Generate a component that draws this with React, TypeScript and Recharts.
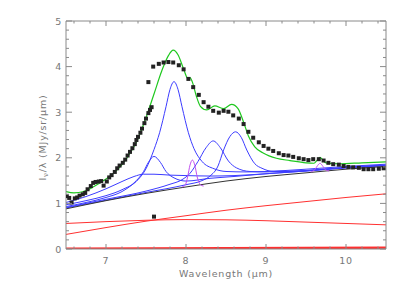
import { ComposedChart, Line, Scatter, XAxis, YAxis } from "recharts"

type Pt = [number, number]

// observed spectrum, short-wavelength order (x in micron, y in MJy/sr/micron)
const specShort: Pt[] = [
  [6.51, 1.16], [6.54, 1.12], [6.57, 1.02], [6.61, 1.11], [6.64, 1.13], [6.67, 1.17],
  [6.71, 1.2], [6.74, 1.23], [6.77, 1.31], [6.81, 1.38], [6.84, 1.45], [6.87, 1.47],
  [6.91, 1.48], [6.94, 1.49], [6.97, 1.39], [7.01, 1.48], [7.04, 1.57], [7.07, 1.62],
  [7.11, 1.69], [7.14, 1.77], [7.17, 1.83], [7.21, 1.89], [7.24, 1.96], [7.27, 2.05],
  [7.3, 2.13], [7.33, 2.21], [7.36, 2.3], [7.38, 2.39], [7.4, 2.46], [7.43, 2.55],
  [7.45, 2.64], [7.48, 2.76], [7.5, 2.86], [7.53, 2.98], [7.55, 3.05], [7.57, 3.11],
]

// observed spectrum, long-wavelength order
const specLong: Pt[] = [
  [7.53, 3.66], [7.6, 0.71], [7.59, 4.0], [7.66, 4.06], [7.72, 4.09], [7.78, 4.1],
  [7.84, 4.09], [7.91, 4.03], [7.97, 3.94], [8.03, 3.73], [8.09, 3.55], [8.16, 3.38],
  [8.22, 3.22], [8.28, 3.12], [8.34, 3.03], [8.41, 2.99], [8.47, 3.03], [8.53, 3.01],
  [8.59, 2.93], [8.66, 2.86], [8.72, 2.74], [8.78, 2.57], [8.84, 2.44], [8.91, 2.34],
  [8.97, 2.26], [9.03, 2.2], [9.09, 2.15], [9.16, 2.1], [9.22, 2.06], [9.28, 2.05],
  [9.34, 2.02], [9.41, 1.99], [9.47, 1.97], [9.53, 1.95], [9.59, 1.97], [9.66, 1.97],
  [9.72, 1.94], [9.78, 1.89], [9.84, 1.86], [9.91, 1.85], [9.97, 1.82], [10.03, 1.8],
  [10.09, 1.79], [10.16, 1.78], [10.22, 1.75], [10.28, 1.75], [10.34, 1.75], [10.41, 1.76],
  [10.47, 1.77],
]

// total model
const modelTotal: Pt[] = [
  [6.5, 1.26], [6.6, 1.23], [6.72, 1.26], [6.85, 1.37], [6.97, 1.5], [7.1, 1.67],
  [7.2, 1.85], [7.3, 2.1], [7.4, 2.42], [7.5, 2.88], [7.6, 3.4], [7.7, 3.92],
  [7.78, 4.24], [7.84, 4.36], [7.9, 4.26], [7.97, 3.95], [8.02, 3.75], [8.05, 3.76],
  [8.08, 3.66], [8.13, 3.35], [8.18, 3.13], [8.26, 3.05], [8.36, 3.14], [8.47, 3.08],
  [8.57, 3.17], [8.65, 3.08], [8.72, 2.78], [8.78, 2.48], [8.86, 2.24], [8.97, 2.1],
  [9.13, 1.99], [9.3, 1.94], [9.5, 1.89], [9.6, 1.88], [9.64, 1.95], [9.675, 2.01],
  [9.71, 1.95], [9.75, 1.89], [9.92, 1.87], [10.2, 1.89], [10.5, 1.91],
]

// total continuum
const continuum: Pt[] = [
  [6.5, 0.88], [7.0, 1.06], [7.5, 1.22], [8.0, 1.36], [8.5, 1.49],
  [9.0, 1.59], [9.5, 1.67], [10.0, 1.75], [10.5, 1.81],
]

// continuum components
const warmDust: Pt[] = [
  [6.5, 0.32], [7.0, 0.47], [7.5, 0.61], [8.0, 0.73], [8.5, 0.85],
  [9.0, 0.95], [9.5, 1.04], [10.0, 1.13], [10.5, 1.21],
]
const starlight: Pt[] = [
  [6.5, 0.56], [7.0, 0.6], [7.5, 0.63], [8.0, 0.645], [8.5, 0.64],
  [9.0, 0.62], [9.5, 0.59], [10.0, 0.56], [10.5, 0.53],
]
const hotDust: Pt[] = [[6.5, 0.015], [8.5, 0.028], [10.5, 0.04]]
const coldDust: Pt[] = [[6.5, 0.003], [10.5, 0.008]]

// PAH features (continuum + feature)
const pah742: Pt[] = [
  [6.5, 1.02], [6.75, 1.15], [7.0, 1.32], [7.2, 1.48], [7.35, 1.59], [7.47, 1.64],
  [7.6, 1.64], [7.8, 1.62], [8.0, 1.61], [8.3, 1.6], [8.6, 1.61], [9.0, 1.65],
  [9.5, 1.71], [10.0, 1.78], [10.5, 1.83],
]
const pah760: Pt[] = [
  [6.5, 0.93], [6.75, 1.02], [7.0, 1.13], [7.2, 1.26], [7.35, 1.45], [7.47, 1.7],
  [7.53, 1.9], [7.6, 2.03], [7.68, 1.9], [7.75, 1.7], [7.85, 1.56], [8.0, 1.49],
  [8.3, 1.55], [8.6, 1.59], [9.0, 1.65], [9.5, 1.71], [10.0, 1.78], [10.5, 1.83],
]
const pah785: Pt[] = [
  [6.5, 0.97], [6.75, 1.06], [7.0, 1.17], [7.2, 1.3], [7.4, 1.52], [7.5, 1.76],
  [7.6, 2.18], [7.67, 2.55], [7.75, 3.12], [7.8, 3.5], [7.85, 3.67], [7.9, 3.5],
  [7.95, 3.12], [8.03, 2.55], [8.1, 2.2], [8.2, 1.92], [8.35, 1.76], [8.5, 1.7],
  [8.75, 1.69], [9.0, 1.7], [9.5, 1.75], [10.0, 1.81], [10.5, 1.86],
]
const pah833: Pt[] = [
  [6.5, 0.91], [7.0, 1.09], [7.5, 1.27], [7.8, 1.42], [7.95, 1.52], [8.05, 1.66],
  [8.15, 1.92], [8.25, 2.22], [8.34, 2.37], [8.43, 2.22], [8.53, 1.93], [8.63, 1.78],
  [8.8, 1.7], [9.0, 1.69], [9.5, 1.72], [10.0, 1.79], [10.5, 1.84],
]
const pah861: Pt[] = [
  [6.5, 0.9], [7.0, 1.07], [7.5, 1.24], [8.0, 1.41], [8.2, 1.5], [8.3, 1.6],
  [8.4, 1.82], [8.47, 2.17], [8.55, 2.47], [8.62, 2.57], [8.69, 2.45], [8.76, 2.17],
  [8.86, 1.87], [8.95, 1.77], [9.1, 1.7], [9.5, 1.72], [10.0, 1.79], [10.5, 1.84],
]

// emission lines (continuum + line)
const h2s4: Pt[] = [
  [7.95, 1.36], [7.99, 1.4], [8.02, 1.58], [8.05, 1.84], [8.08, 1.95],
  [8.11, 1.84], [8.14, 1.58], [8.18, 1.41], [8.22, 1.38],
]
const h2s3: Pt[] = [
  [9.56, 1.69], [9.61, 1.74], [9.645, 1.83], [9.675, 1.88], [9.705, 1.83],
  [9.74, 1.74], [9.79, 1.71],
]

const xTicks = [6.6, 6.8, 7, 7.2, 7.4, 7.6, 7.8, 8, 8.2, 8.4, 8.6, 8.8, 9, 9.2, 9.4, 9.6, 9.8, 10, 10.2, 10.4]
const yTicks = [
  0, 0.2, 0.4, 0.6, 0.8, 1, 1.2, 1.4, 1.6, 1.8, 2, 2.2, 2.4, 2.6, 2.8,
  3, 3.2, 3.4, 3.6, 3.8, 4, 4.2, 4.4, 4.6, 4.8, 5,
]

const axisColor = "#8a8a8a"
const textColor = "#777"
const font = { fontFamily: "DejaVu Sans", fontSize: 9.5, letterSpacing: 0.8, fill: textColor }

const pts = (a: Pt[]) => a.map(([x, y]) => ({ x, y }))
const isMajor = (v: number) => Math.abs(v - Math.round(v)) < 1e-6

function BottomTick({ x, y, payload }: any) {
  const major = isMajor(payload.value)
  return (
    <g>
      <line x1={x} x2={x} y1={y} y2={y - (major ? 5 : 2.5)} stroke={axisColor} />
      {major && (
        <text x={x} y={y + 14.5} textAnchor="middle" {...font}>
          {Math.round(payload.value)}
        </text>
      )}
    </g>
  )
}

function TopTick({ x, y, payload }: any) {
  const major = isMajor(payload.value)
  return <line x1={x} x2={x} y1={y} y2={y + (major ? 5 : 2.5)} stroke={axisColor} />
}

function LeftTick({ x, y, payload }: any) {
  const major = isMajor(payload.value)
  return (
    <g>
      <line x1={x} x2={x + (major ? 6 : 3)} y1={y} y2={y} stroke={axisColor} />
      {major && (
        <text x={x - 4} y={y + 3.5} textAnchor="end" {...font}>
          {Math.round(payload.value)}
        </text>
      )}
    </g>
  )
}

function RightTick({ x, y, payload }: any) {
  const major = isMajor(payload.value)
  return <line x1={x} x2={x - (major ? 6 : 3)} y1={y} y2={y} stroke={axisColor} />
}

const square = (p: any) => <rect x={p.cx - 2} y={p.cy - 2} width={4} height={4} fill="#222" />

const BLUE = "#3c3cff"
const RED = "#ff3030"
const MAGENTA = "#c050f0"

export default function App() {
  const curve = (data: Pt[], stroke: string, width = 1) => (
    <Line
      data={pts(data)}
      dataKey="y"
      type="monotone"
      stroke={stroke}
      strokeWidth={width}
      dot={false}
      activeDot={false}
      isAnimationActive={false}
    />
  )

  return (
    <div style={{ position: "relative", width: 391, height: 275 }}>
      <ComposedChart width={391} height={275} margin={{ top: 12, right: 12, bottom: 0, left: 0 }}>
        <XAxis
          dataKey="x"
          type="number"
          domain={[6.5, 10.5]}
          allowDataOverflow
          ticks={xTicks}
          interval={0}
          tickSize={0}
          tickMargin={0}
          tickLine={false}
          tick={BottomTick}
          axisLine={{ stroke: axisColor }}
          height={34}
        />
        <XAxis
          xAxisId="top"
          orientation="top"
          dataKey="x"
          type="number"
          domain={[6.5, 10.5]}
          allowDataOverflow
          ticks={xTicks}
          interval={0}
          tickSize={0}
          tickMargin={0}
          tickLine={false}
          tick={TopTick}
          axisLine={{ stroke: axisColor }}
          height={1}
        />
        <YAxis
          dataKey="y"
          type="number"
          domain={[0, 5]}
          allowDataOverflow
          ticks={yTicks}
          interval={0}
          tickSize={0}
          tickMargin={0}
          tickLine={false}
          tick={LeftTick}
          axisLine={{ stroke: axisColor }}
          width={58}
        />
        <YAxis
          yAxisId="right"
          orientation="right"
          dataKey="y"
          type="number"
          domain={[0, 5]}
          allowDataOverflow
          ticks={yTicks}
          interval={0}
          tickSize={0}
          tickMargin={0}
          tickLine={false}
          tick={RightTick}
          axisLine={{ stroke: axisColor }}
          width={1}
        />
        {curve(coldDust, RED, 1.5)}
        {curve(hotDust, RED, 1.5)}
        {curve(warmDust, RED)}
        {curve(starlight, RED)}
        {curve(pah742, BLUE)}
        {curve(pah760, BLUE)}
        {curve(pah785, BLUE)}
        {curve(pah833, BLUE)}
        {curve(pah861, BLUE)}
        {curve(continuum, "#333")}
        {curve(h2s4, MAGENTA)}
        {curve(h2s3, MAGENTA)}
        {curve(modelTotal, "#1ec81e", 1.2)}
        <Scatter data={pts(specShort)} dataKey="y" shape={square} isAnimationActive={false} />
        <Scatter data={pts(specLong)} dataKey="y" shape={square} isAnimationActive={false} />
      </ComposedChart>
      <svg width={391} height={275} style={{ position: "absolute", left: 0, top: 0, pointerEvents: "none" }}>
        <text x={218} y={268.5} textAnchor="middle" {...font}>
          Wavelength (μm)
        </text>
        <text x={38} y={129.5} textAnchor="middle" transform="rotate(-90 38 129.5)" {...font}>
          <tspan>I</tspan>
          <tspan dy={2} fontSize={7}>ν</tspan>
          <tspan dy={-2}>/λ (MJy/sr/μm)</tspan>
        </text>
      </svg>
    </div>
  )
}
